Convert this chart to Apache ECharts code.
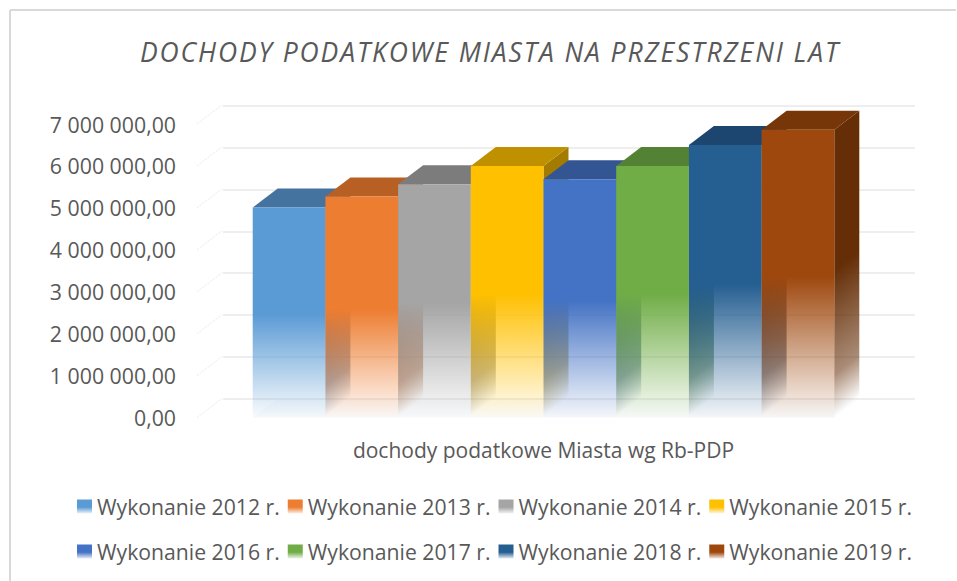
<!DOCTYPE html>
<html><head><meta charset="utf-8">
<style>html,body{margin:0;padding:0;background:#fff}#c{width:957px;height:581px}
#c svg text[style*="italic"]{letter-spacing:1.9px}</style>
<script src="https://cdn.jsdelivr.net/npm/echarts@6/dist/echarts.min.js"></script>
</head><body><div id="c"></div>
<script>
var titleText = 'DOCHODY PODATKOWE MIASTA NA PRZESTRZENI LAT';
var categoryLabels = ['dochody podatkowe Miasta wg Rb-PDP'];
var seriesNames = ['Wykonanie 2012 r.','Wykonanie 2013 r.','Wykonanie 2014 r.','Wykonanie 2015 r.','Wykonanie 2016 r.','Wykonanie 2017 r.','Wykonanie 2018 r.','Wykonanie 2019 r.'];
var seriesValues = [5010000,5270000,5565000,6000000,5685000,6000000,6500000,6860000];
var tickValues = [0,1000000,2000000,3000000,4000000,5000000,6000000,7000000];
var frontColors = ['#5B9BD5','#ED7D31','#A5A5A5','#FFC000','#4472C4','#70AD47','#255E91','#9E480E'];
var topColors   = ['#44739F','#B85F24','#7C7C7C','#BF9000','#335593','#548235','#1C4670','#763608'];
var sideColors  = ['#3A6591','#9E5120','#6A6A6A','#A37B00','#2C4A80','#48702E','#183C60','#652E07'];

var DEPTH_X = 25, DEPTH_Y = 19, BAR_FRACTION = 72.7 / 693;

function rgba(hex, a) {
  var n = parseInt(hex.slice(1), 16);
  return 'rgba(' + (n >> 16) + ',' + ((n >> 8) & 255) + ',' + (n & 255) + ',' + a + ')';
}
function fade(hex, startAt, endAlpha) {
  return new echarts.graphic.LinearGradient(0, 0, 0, 1, [
    {offset: 0, color: hex},
    {offset: startAt, color: hex},
    {offset: 1, color: rgba(hex, endAlpha)}
  ]);
}
// Side face: the fade follows the slanted floor edge of the bar.
function sideFade(hex, startAt, slope) {
  var k = 1 / (1 + slope * slope);
  return new echarts.graphic.LinearGradient(0, 0, slope * k, k, [
    {offset: 0, color: hex},
    {offset: startAt, color: hex},
    {offset: 0.86, color: rgba(hex, 0.55)},
    {offset: 0.995, color: rgba(hex, 0)},
    {offset: 1, color: rgba(hex, 0)}
  ]);
}
function swatch(hex) {
  return new echarts.graphic.LinearGradient(0, 0, 0, 1, [
    {offset: 0, color: hex},
    {offset: 0.55, color: hex},
    {offset: 1, color: rgba(hex, 0.12)}
  ]);
}
function fmt(v) {
  return String(v).replace(/\B(?=(\d{3})+(?!\d))/g, ' ') + ',00';
}
function barRenderer(idx) {
  return function (params, api) {
    var base = api.coord([api.value(0), 0]);
    var top = api.coord([api.value(0), api.value(1)]);
    var band = api.size([1, 0])[0];
    var w = band * BAR_FRACTION;
    var x0 = base[0] + (idx - seriesNames.length / 2) * w;
    var x1 = x0 + w, yb = base[1], yt = top[1];
    var slope = DEPTH_Y / (yb - yt + DEPTH_Y);
    return {
      type: 'group',
      children: [
        {type: 'polygon', shape: {points: [[x0, yb], [x1, yb], [x1 + DEPTH_X, yb - DEPTH_Y], [x0 + DEPTH_X, yb - DEPTH_Y]]},
          style: {fill: 'rgba(232,234,240,0.2)'}},
        {type: 'polygon', shape: {points: [[x1, yt], [x1 + DEPTH_X, yt - DEPTH_Y], [x1 + DEPTH_X, yb - DEPTH_Y], [x1, yb]]},
          style: {fill: sideFade(sideColors[idx], 0.52, slope)}},
        {type: 'polygon', shape: {points: [[x0, yt], [x0 + DEPTH_X, yt - DEPTH_Y], [x1 + DEPTH_X, yt - DEPTH_Y], [x1, yt]]},
          style: {fill: topColors[idx]}},
        {type: 'rect', shape: {x: x0, y: yt, width: w, height: yb - yt},
          style: {fill: fade(frontColors[idx], 0.51, 0.03)}}
      ]
    };
  };
}
var barSeries = seriesNames.map(function (name, i) {
  return {
    type: 'custom', name: name, coordinateSystem: 'cartesian2d',
    xAxisIndex: 0, yAxisIndex: 0, z: 5 + i,
    itemStyle: {color: frontColors[i]},
    encode: {x: 0, y: 1},
    data: [[categoryLabels[0], seriesValues[i]]],
    renderItem: barRenderer(i)
  };
});
var sideWall = {
  type: 'custom', coordinateSystem: 'cartesian2d', xAxisIndex: 0, yAxisIndex: 0, z: 1, silent: true,
  encode: {y: 0},
  data: tickValues.map(function (t) { return [t]; }),
  renderItem: function (params, api) {
    var p = api.coord([categoryLabels[0], api.value(0)]);
    var left = params.coordSys.x;
    return {type: 'line', shape: {x1: left, y1: p[1], x2: left + DEPTH_X, y2: p[1] - DEPTH_Y},
      style: {stroke: '#e6e6e6', lineWidth: 1, lineDash: [1, 1]}};
  }
};
function legendRow(from, to, top) {
  return {
    top: top, left: 77, itemWidth: 15, itemHeight: 14, itemGap: 8, padding: 0,
    selectedMode: false,
    textStyle: {fontFamily: 'Open Sans', fontSize: 21.2, color: '#595959'},
    data: seriesNames.slice(from, to).map(function (n, k) {
      return {name: n, icon: 'rect', itemStyle: {color: swatch(frontColors[from + k])}};
    })
  };
}
var chart = echarts.init(document.getElementById('c'), null, {renderer: 'svg'});
chart.setOption({
  animation: false,
  backgroundColor: '#fff',
  title: {
    text: titleText, left: 485, top: 33, textAlign: 'center',
    textStyle: {fontFamily: 'Open Sans', fontStyle: 'italic', fontWeight: 'normal', fontSize: 26.5, color: '#595959'}
  },
  graphic: [
    {type: 'line', z: -10, shape: {x1: 10, y1: 10, x2: 956, y2: 10}, style: {stroke: '#d9d9d9', lineWidth: 2}},
    {type: 'line', z: -10, shape: {x1: 10, y1: 10, x2: 10, y2: 581}, style: {stroke: '#d9d9d9', lineWidth: 2}}
  ],
  legend: [legendRow(0, 4, 496), legendRow(4, 8, 541)],
  grid: [
    {left: 197, top: 124, width: 693, height: 293.5},
    {left: 223, top: 105.5, width: 692, height: 293.5}
  ],
  xAxis: [
    {type: 'category', gridIndex: 0, data: categoryLabels, axisLine: {show: false}, axisTick: {show: false},
      axisLabel: {fontFamily: 'Open Sans', fontSize: 21, color: '#595959', margin: 22}},
    {type: 'category', gridIndex: 1, data: categoryLabels, axisLine: {show: false}, axisTick: {show: false}, axisLabel: {show: false}}
  ],
  yAxis: [
    {type: 'value', gridIndex: 0, min: 0, max: 7000000, interval: 1000000, splitLine: {show: false},
      axisLine: {show: false}, axisTick: {show: false},
      axisLabel: {fontFamily: 'Open Sans', fontSize: 21.3, color: '#595959', margin: 21, formatter: fmt}},
    {type: 'value', gridIndex: 1, min: 0, max: 7000000, interval: 1000000,
      splitLine: {show: true, lineStyle: {color: '#eeeeee', width: 2}},
      axisLine: {show: false}, axisTick: {show: false}, axisLabel: {show: false}}
  ],
  series: [sideWall].concat(barSeries)
});
</script></body></html>
